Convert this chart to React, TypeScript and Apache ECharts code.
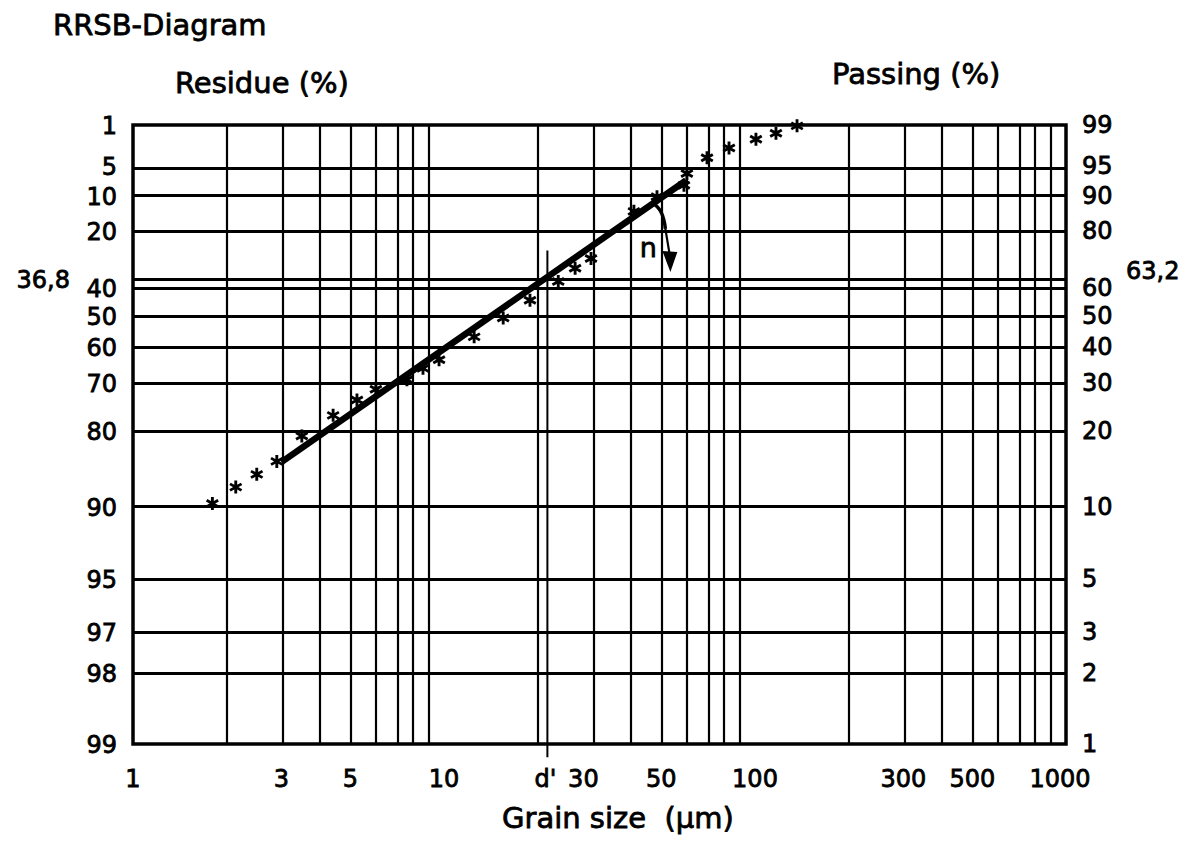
import React, { useEffect, useRef } from "react";
import * as echarts from "echarts";

// ---- data ----
const grainSizes = [1.8, 2.14, 2.5, 2.9, 3.49, 4.4, 5.25, 6.04, 7.6, 8.56, 9.64, 12.5, 15.5, 18.9, 23.3, 26.4, 29.7, 40.8, 48.4, 59.1, 60.4, 70.1, 82.5, 100.7, 116.8, 136.5];
const residues = [89.7, 88.0, 86.5, 84.8, 80.9, 77.1, 73.9, 71.4, 69.1, 66.1, 63.7, 56.8, 50.6, 44.4, 37.6, 32.8, 29.3, 14.1, 10.4, 7.9, 5.8, 3.58, 2.55, 1.83, 1.44, 1.04];
const fitLineSizes = [3, 60];
const fitLineResidues = [84.9, 7.0];
const dPrime = 21.5;
const dPrimeTickTopResidue = 26.5;

const residueTicks = [1, 5, 10, 20, 40, 50, 60, 70, 80, 90, 95, 97, 98, 99];
const residueGridLines = [5, 10, 20, 36.8, 40, 50, 60, 70, 80, 90, 95, 97, 98];
const sizeTicks = [1, 3, 5, 10, 30, 50, 100, 300, 500, 1000];
const sizeGridLines = [2, 3, 4, 5, 6, 7, 8, 9, 20, 30, 40, 50, 60, 70, 80, 90, 200, 300, 400, 500, 600, 700, 800, 900];
const characteristicResidue = 36.8;

// RRSB transforms
const fy = (r: number) => Math.log(Math.log(100 / r));
const fx = (d: number) => Math.log10(d);
const fmt = (v: number) => String(v).replace(".", ",");

const FONT = "DejaVu Sans";
const asterisk =
  "path://M-1.4,-6.5L1.4,-6.5L1.4,6.5L-1.4,6.5Z M4.93,-4.46L6.33,-2.04L-4.93,4.46L-6.33,2.04Z M6.33,2.04L4.93,4.46L-6.33,-2.04L-4.93,-4.46Z";

function txt(text: string, x: number, y: number, size: number, align: string, valign = "middle") {
  return {
    type: "text",
    silent: true,
    style: {
      text,
      x,
      y,
      fill: "#000",
      stroke: "#000",
      lineWidth: 0.8,
      fontSize: size,
      fontFamily: FONT,
      textAlign: align,
      align,
      textVerticalAlign: valign,
      verticalAlign: valign,
    },
  };
}

export default function App() {
  const ref = useRef<HTMLDivElement>(null);
  useEffect(() => {
    const chart = echarts.init(ref.current!, null, { renderer: "svg" });
    const yMin = fy(99);
    const yMax = fy(1);
    chart.setOption({
      animation: false,
      backgroundColor: "#fff",
      grid: {
        left: 133,
        right: 135,
        top: 125,
        bottom: 99,
        show: true,
        borderColor: "#000",
        borderWidth: 3.5,
        backgroundColor: "transparent",
      },
      xAxis: { type: "value", min: 0, max: 3, show: false },
      yAxis: { type: "value", min: yMin, max: yMax, show: false },
      series: [
        {
          type: "line",
          data: [[0, yMin]],
          symbol: "none",
          lineStyle: { opacity: 0 },
          silent: true,
          markLine: {
            silent: true,
            symbol: ["none", "none"],
            label: { show: false },
            lineStyle: { color: "#000", type: "solid", width: 3 },
            data: residueGridLines.map((r) => ({ yAxis: fy(r) })),
          },
        },
        {
          type: "line",
          data: [[0, yMin]],
          symbol: "none",
          lineStyle: { opacity: 0 },
          silent: true,
          markLine: {
            silent: true,
            symbol: ["none", "none"],
            label: { show: false },
            lineStyle: { color: "#000", type: "solid", width: 2.2 },
            data: sizeGridLines.map((d) => ({ xAxis: fx(d) })),
          },
        },
        {
          type: "line",
          clip: false,
          symbol: "none",
          lineStyle: { color: "#000", width: 2 },
          data: [
            [fx(dPrime), fy(dPrimeTickTopResidue)],
            [fx(dPrime), yMin - 0.13],
          ],
        },
        {
          type: "line",
          symbol: "none",
          lineStyle: { color: "#000", width: 6.5 },
          data: fitLineSizes.map((d, i) => [fx(d), fy(fitLineResidues[i])]),
        },
        {
          type: "scatter",
          symbol: asterisk,
          symbolSize: [13, 13],
          itemStyle: { color: "#000", opacity: 1 },
          data: grainSizes.map((d, i) => [fx(d), fy(residues[i])]),
        },
      ],
    });

    const px = (d: number, r: number) => chart.convertToPixel({ gridIndex: 0 }, [fx(d), fy(r)]) as number[];
    const left = px(1, 50)[0];
    const right = px(1000, 50)[0];
    const bottom = px(1, 99)[1];
    const g: any[] = [];
    g.push(txt("RRSB-Diagram", 53, 25, 29, "left"));
    g.push(txt("Residue (%)", 175, 83, 29, "left"));
    g.push(txt("Passing (%)", 832, 74, 29, "left"));
    g.push(txt("Grain size  (\u03bcm)", 502, 818, 29, "left"));
    residueTicks.forEach((r) => {
      let y = px(1, r)[1];
      if (r === 5) y -= 2;
      if (r === 10) y += 1;
      g.push(txt(fmt(r), left - 16, y + 1, 24, "right"));
      g.push(txt(fmt(Math.round((100 - r) * 10) / 10), right + 16, y, 24, "left"));
    });
    const yc = px(1, characteristicResidue)[1];
    g.push(txt(fmt(characteristicResidue), left - 63, yc + 1, 24, "right"));
    g.push(txt(fmt(Math.round((100 - characteristicResidue) * 10) / 10), right + 60, yc - 8, 24, "left"));
    sizeTicks.forEach((d) => {
      let x = px(d, 50)[0];
      if (d === 30) x -= 9;
      if (d === 1000) x -= 6;
      g.push(txt(String(d), x, bottom + 35, 24, "center"));
    });
    g.push(txt("d'", px(dPrime, 50)[0] - 2, bottom + 35, 24, "center"));

    // slope annotation "n" anchored at the fit line near d = 50
    const a = chart.convertToPixel({ gridIndex: 0 }, [fx(50), fy(11.4)]) as number[];
    g.push({
      type: "bezierCurve",
      silent: true,
      shape: { x1: a[0] - 8, y1: a[1] + 3, cpx1: a[0] + 2, cpy1: a[1] + 8, x2: a[0] + 4, y2: a[1] + 28 },
      style: { stroke: "#000", lineWidth: 3.5, fill: null },
    });
    g.push({
      type: "line",
      silent: true,
      shape: { x1: a[0] + 4, y1: a[1] + 28, x2: a[0] + 8, y2: a[1] + 52 },
      style: { stroke: "#000", lineWidth: 2.2 },
    });
    g.push({
      type: "polygon",
      silent: true,
      shape: { points: [[a[0] + 1, a[1] + 50], [a[0] + 16, a[1] + 51], [a[0] + 9, a[1] + 71]] },
      style: { fill: "#000" },
    });
    g.push(txt("n", a[0] - 13, a[1] + 47, 27, "center"));
    chart.setOption({ graphic: g });

    return () => chart.dispose();
  }, []);
  return (
    <div
      ref={ref}
      style={{ position: "fixed", left: 0, top: 0, width: 1201, height: 843, background: "#fff" }}
    />
  );
}
